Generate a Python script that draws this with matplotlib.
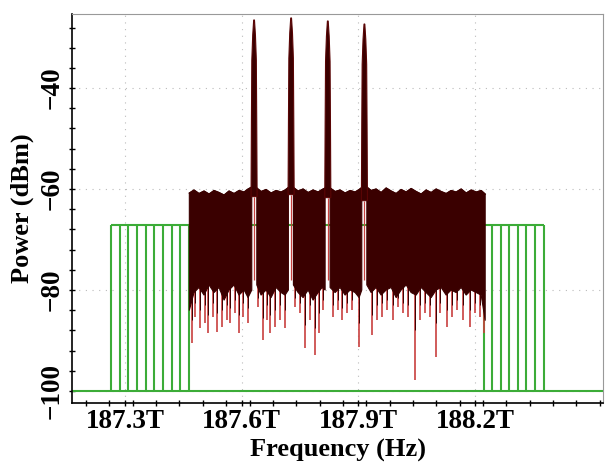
import numpy as np
import matplotlib
matplotlib.use('Agg')
import matplotlib.pyplot as plt
from matplotlib.ticker import MultipleLocator

plt.rcParams['font.family'] = ['Liberation Serif', 'DejaVu Serif']
plt.rcParams['font.weight'] = 'bold'

# Frequencies in THz, powers in dBm
nan = np.nan
band_freq = [187.4653, 187.4774, 187.4902, 187.5031, 187.5160, 187.5288, 187.5417,
             187.5546, 187.5674, 187.5803, 187.5931, 187.6060, 187.6163, 187.6258, nan,
             187.6387, 187.6497, 187.6626, 187.6754, 187.6883, 187.7011, 187.7114, 187.7199, nan,
             187.7328, 187.7449, 187.7577, 187.7706, 187.7834, 187.7963, 187.8066, 187.8143, nan,
             187.8271, 187.8400, 187.8528, 187.8657, 187.8786, 187.8914, 187.9017, 187.9086, nan,
             187.9215, 187.9326, 187.9454, 187.9583, 187.9712, 187.9840, 187.9969, 188.0097,
             188.0226, 188.0354, 188.0483, 188.0612, 188.0740, 188.0869, 188.0997, 188.1126,
             188.1254, 188.1383, 188.1511, 188.1640, 188.1769, 188.1897, 188.2026, 188.2154, 188.2257]
band_top = [-60.8, -60.2, -60.9, -60.4, -61.0, -60.3, -60.7, -61.2, -60.4, -60.9, -60.3, -60.6, -60.0, -59.6, nan,
            -59.8, -60.5, -60.1, -60.8, -60.3, -60.6, -60.2, -59.7, nan,
            -59.7, -60.4, -60.0, -60.7, -60.2, -60.6, -60.1, -59.8, nan,
            -59.8, -60.5, -60.2, -60.8, -60.3, -60.6, -60.1, -59.7, nan,
            -59.6, -60.3, -60.0, -60.7, -59.8, -60.4, -60.9, -60.1, -60.6, -59.9, -60.5, -61.0, -60.2,
            -60.7, -60.0, -60.5, -60.9, -60.3, -60.6, -60.0, -60.8, -60.2, -60.6, -60.3, -61.0]
band_low = [-84.0, -80.5, -79.5, -81.0, -79.0, -80.5, -79.5, -82.0, -80.0, -79.0, -81.0, -80.0, -81.5, -80.0, nan,
            -79.0, -81.0, -80.0, -81.5, -79.5, -80.5, -81.0, -80.0, nan,
            -79.0, -80.5, -81.5, -80.0, -82.0, -80.5, -79.5, -80.0, nan,
            -79.5, -80.5, -79.5, -81.0, -80.0, -80.5, -81.5, -80.0, nan,
            -79.0, -80.5, -79.5, -81.0, -80.0, -79.5, -81.5, -80.0, -79.0, -80.5, -81.0, -79.5, -80.5,
            -81.5, -80.0, -79.5, -81.0, -80.0, -80.5, -79.5, -81.0, -80.0, -80.5, -81.0, -86.0]

# downward noise spikes
spike_freq = [187.4715, 187.4800, 187.4928, 187.5057, 187.5142, 187.5270, 187.5358, 187.5487,
              187.5615, 187.5700, 187.5829, 187.5939, 187.6042, 187.6171,
              187.6428, 187.6540, 187.6659, 187.6728, 187.6857, 187.6986, 187.7114,
              187.7371, 187.7500, 187.7628, 187.7757, 187.7886, 187.7996, 187.8084,
              187.8356, 187.8485, 187.8588, 187.8701, 187.8830, 187.9025,
              187.9343, 187.9472, 187.9601, 187.9729, 187.9900, 188.0028, 188.0156, 188.0285,
              188.0457, 188.0586, 188.0714, 188.0843, 188.0997, 188.1100, 188.1272, 188.1401,
              188.1529, 188.1699, 188.1871, 188.2000, 188.2128, 188.2231]
spike_depth = [-90.5, -85.3, -87.5, -86.5, -88.5, -85.3, -88.3, -87.3, -86.0, -86.5, -84.6, -88.5, -85.3, -86.5,
               -83.4, -89.9, -86.0, -88.5, -87.3, -86.0, -87.5,
               -83.4, -84.6, -91.5, -86.0, -92.9, -88.5, -84.0,
               -85.3, -84.0, -86.0, -84.6, -84.0, -91.3,
               -88.9, -86.0, -85.3, -84.0, -86.0, -83.4, -84.6, -85.3,
               -97.8, -86.0, -84.6, -85.3, -93.3, -84.6, -87.3, -85.3,
               -84.0, -86.0, -87.3, -84.6, -85.3, -88.5]
# dark streaks hanging below the dense part
streak_depth = [-86.0, -82.5, -84.0, -83.0, -85.0, -82.5, -84.5, -84.0, -83.0, -83.5, -82.0, -85.0, -82.5, -83.5,
                -81.5, -85.5, -83.0, -85.0, -84.0, -83.0, -84.0,
                -81.5, -82.5, -87.0, -83.0, -87.5, -84.5, -82.0,
                -83.0, -82.0, -83.5, -82.5, -82.0, -86.5,
                -85.0, -83.0, -82.5, -82.0, -83.0, -81.5, -82.5, -83.0,
                -88.0, -83.0, -82.5, -83.0, -86.5, -82.5, -84.0, -83.0,
                -82.0, -83.0, -84.0, -82.5, -83.0, -85.0]

# optical carriers
peak_freq = [187.6317, 187.7269, 187.8212, 187.9153]
peak_power = [-26.5, -26.1, -26.7, -27.3]
peak_drop = [0, 3, 8, 20, 35]                  # dB below the peak
peak_halfwidth = [0.0010, 0.0035, 0.0058, 0.0068, 0.0078]  # THz
peak_tail = -78.0

# green filter passbands
filter_left = [187.264, 187.287, 187.3085, 187.330, 187.353, 187.3746, 187.397, 187.420, 187.4414, 187.4646]
filter_right = [188.2231, 188.2444, 188.266, 188.2882, 188.3098, 188.3311, 188.3525, 188.3756]
filter_top = -67.1
filter_floor = -100.1

xticks = [187.3, 187.6, 187.9, 188.2]
xlabels = ['187.3T', '187.6T', '187.9T', '188.2T']
yticks = [-100, -80, -60, -40]

dark = '#3a0000'
red = '#c8403e'
green = '#3cac38'

fig = plt.figure(figsize=(6.05, 4.72), dpi=100)
ax = fig.add_axes([0.119, 0.146, 0.878, 0.824])

# filters
ax.axhline(filter_floor, color=green, lw=1.5, zorder=2)
edges = filter_left + filter_right
ax.vlines(edges, filter_floor, filter_top, color=green, lw=1.5, zorder=2)
ax.hlines(filter_top, filter_left[0], filter_right[-1], color=green, lw=1.5, zorder=2)

# noise band
ax.vlines(spike_freq, -72, spike_depth, color=red, lw=1.2, zorder=3)
bf = np.array(band_freq)
ax.fill_between(bf, band_low, band_top, color=dark, lw=0.8, edgecolor=dark, zorder=4)
ax.plot(bf, band_top, color=dark, lw=1.0, zorder=4)
ax.vlines(spike_freq, -75, streak_depth, color=dark, lw=0.7, zorder=4)

# carriers
pd = np.array(peak_drop)
hw = np.array(peak_halfwidth)
for f, p in zip(peak_freq, peak_power):
    xs = np.concatenate([f - hw[::-1], f + hw])
    ys = np.concatenate([p - pd[::-1], p - pd])
    ax.fill(xs, ys, color=dark, lw=0.8, edgecolor='#5a0505', zorder=5)
    ax.vlines(f, peak_tail, p - pd[-1], color=red, lw=0.9, zorder=3)

ax.set_xlim(187.1637, 188.529)
ax.set_ylim(-102.4, -25.35)
ax.set_xticks(xticks)
ax.set_xticklabels(xlabels)
ax.set_yticks(yticks)
ax.xaxis.set_minor_locator(MultipleLocator(0.06))
ax.yaxis.set_minor_locator(MultipleLocator(4))
for lab in ax.get_yticklabels():
    lab.set_rotation(90)
    lab.set_va('center')
ax.tick_params(which='both', direction='inout', length=4, width=1, labelsize=19.5)
ax.tick_params(axis='y', pad=3)
ax.tick_params(axis='x', pad=2)

ax.grid(True, which='major', color='#bbbbbb', linestyle=(0, (1, 5)), lw=0.8)
ax.set_axisbelow(True)

ax.spines['top'].set_color('#999999')
ax.spines['top'].set_linestyle((0, (9, 1)))
ax.spines['right'].set_color('#999999')
ax.spines['left'].set_linewidth(1.2)
ax.spines['bottom'].set_linewidth(1.2)

ax.set_xlabel('Frequency (Hz)', fontsize=19, fontweight='bold', labelpad=4)
ax.set_ylabel('Power (dBm)', fontsize=19, fontweight='bold', labelpad=4)

fig.savefig('out.png', dpi=100)
